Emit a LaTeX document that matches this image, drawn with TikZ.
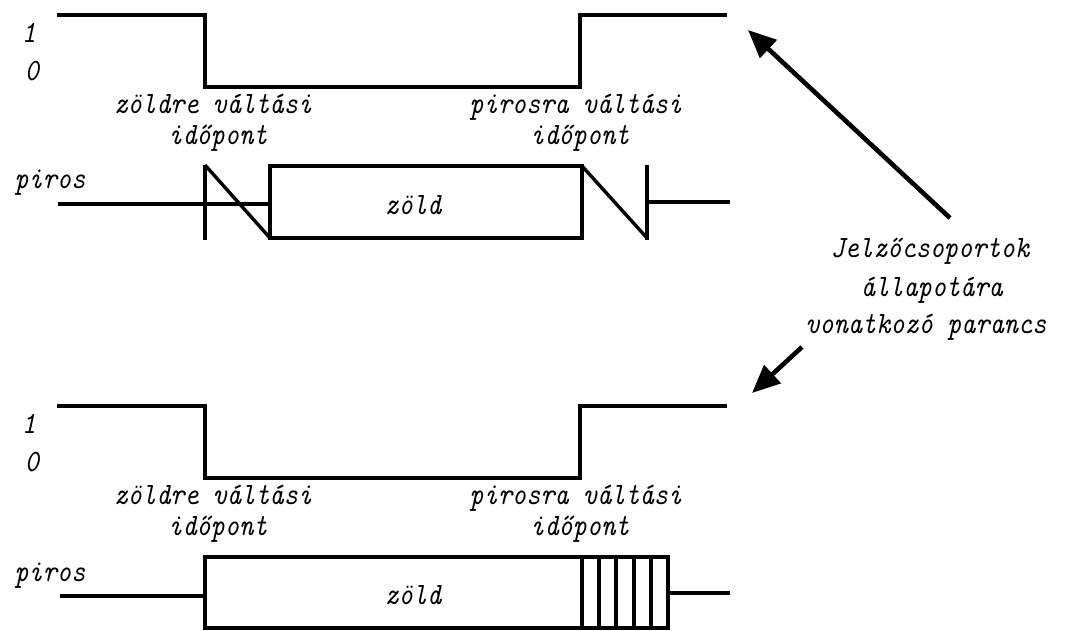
\documentclass[tikz,border=0pt]{standalone}
\usepackage{graphicx}
\usetikzlibrary{arrows.meta}
% labels are set a little taller than the font's own proportions
\newcommand\talltext[1]{\scalebox{1}[1.15]{#1}}
\begin{document}
\begin{tikzpicture}[x=1pt,y=-1pt,
  wave/.style={line width=4pt, line join=miter},
  boxline/.style={line width=3.4pt, line join=miter},
  lbl/.style={font=\ttfamily\itshape\fontsize{27}{25}\selectfont, inner sep=0pt, anchor=base},
  cmdarrow/.style={line width=4.6pt, -{Triangle[length=28pt,width=24pt]}}]
\useasboundingbox (0,0) rectangle (1080,630);

% ---- upper diagram: command signal ----
\draw[wave] (57,15) -- (205,15) -- (205,87) -- (580,87) -- (580,15) -- (727,15);
\node[lbl] (one1) at (29,42) {\talltext{1}};
\node[lbl] (zero1) at (32,80) {\talltext{0}};
\node[lbl] (tg1a) at (213,113) {\talltext{zöldre váltási}};
\node[lbl] (tg1b) at (218,144) {\talltext{időpont}};
\node[lbl] (tr1a) at (576,113) {\talltext{pirosra váltási}};
\node[lbl] (tr1b) at (580,144) {\talltext{időpont}};

% ---- upper diagram: signal state ----
\node[lbl] (piros1) at (50,188) {\talltext{piros}};
\draw[boxline] (58,204) -- (270,204);
\draw[boxline] (205,165) -- (205,240);
\draw[boxline] (205,165) -- (270,238);
\draw[boxline] (270,166) rectangle (582,238);
\draw[boxline] (582,166) -- (647,238);
\draw[boxline] (647,165) -- (647,240);
\draw[boxline] (647,202) -- (730,202);
\node[lbl] (zold1) at (413,214) {\talltext{zöld}};

% ---- command text with arrows ----
\node[lbl] (cmd1) at (930,257) {\talltext{Jelzőcsoportok}};
\node[lbl] (cmd2) at (932,296) {\talltext{állapotára}};
\node[lbl] (cmd3) at (926,333) {\talltext{vonatkozó parancs}};
\coordinate (up tail) at (950,218);
\coordinate (up tip) at (748,30);
\coordinate (dn tail) at (802,347);
\coordinate (dn tip) at (752,393);
\draw[cmdarrow] (up tail) -- (up tip);
\draw[cmdarrow] (dn tail) -- (dn tip);

% ---- lower diagram: command signal ----
\draw[wave] (57,406) -- (205,406) -- (205,478) -- (580,478) -- (580,406) -- (727,406);
\node[lbl] (one2) at (29,433) {\talltext{1}};
\node[lbl] (zero2) at (32,471) {\talltext{0}};
\node[lbl] (tg2a) at (213,504) {\talltext{zöldre váltási}};
\node[lbl] (tg2b) at (218,535) {\talltext{időpont}};
\node[lbl] (tr2a) at (576,504) {\talltext{pirosra váltási}};
\node[lbl] (tr2b) at (580,535) {\talltext{időpont}};

% ---- lower diagram: signal state ----
\node[lbl] (piros2) at (50,581) {\talltext{piros}};
\draw[boxline] (60,596) -- (205,596);
\draw[boxline] (205,557) rectangle (668,628);
\foreach \x in {582,599,616,634,651}
  \draw[boxline] (\x,557) -- (\x,628);
\draw[boxline] (668,593) -- (730,593);
\node[lbl] (zold2) at (413,604) {\talltext{zöld}};
\end{tikzpicture}
\end{document}
